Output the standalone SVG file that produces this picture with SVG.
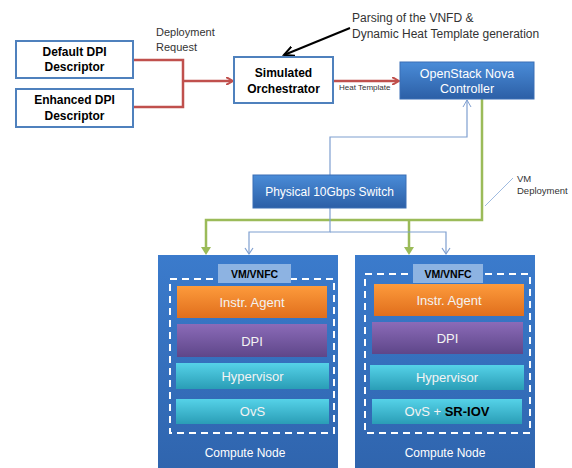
<svg xmlns="http://www.w3.org/2000/svg" width="572" height="468" viewBox="0 0 572 468">
<defs>
<linearGradient id="gBlue" x1="0" y1="0" x2="0" y2="1"><stop offset="0" stop-color="#4a8cd8"/><stop offset="1" stop-color="#2c5fa6"/></linearGradient>
<linearGradient id="gNode" x1="0" y1="0" x2="0" y2="1"><stop offset="0" stop-color="#3b7bcc"/><stop offset="1" stop-color="#2f64ad"/></linearGradient>
<linearGradient id="gOr" x1="0" y1="0" x2="0" y2="1"><stop offset="0" stop-color="#fd9b3c"/><stop offset="1" stop-color="#e06e1c"/></linearGradient>
<linearGradient id="gPu" x1="0" y1="0" x2="0" y2="1"><stop offset="0" stop-color="#8b6bb8"/><stop offset="1" stop-color="#5e4689"/></linearGradient>
<linearGradient id="gCy" x1="0" y1="0" x2="0" y2="1"><stop offset="0" stop-color="#55d2e8"/><stop offset="1" stop-color="#2a9db6"/></linearGradient>
<marker id="aRed" markerWidth="8" markerHeight="8" refX="6" refY="4" orient="auto" markerUnits="userSpaceOnUse"><path d="M0,0 L7,4 L0,8" fill="none" stroke="#c0504d" stroke-width="2"/></marker>
<marker id="aLb" markerWidth="10" markerHeight="10" refX="8" refY="5" orient="auto" markerUnits="userSpaceOnUse"><path d="M1,1 L8,5 L1,9" fill="none" stroke="#7f9fd0" stroke-width="1"/></marker>
<marker id="aBlk" markerWidth="12" markerHeight="12" refX="10" refY="6" orient="auto" markerUnits="userSpaceOnUse"><path d="M0,1 L10,6 L0,11" fill="none" stroke="#000" stroke-width="2"/></marker>
</defs>
<style>
text{font-family:"Liberation Sans",Arial,sans-serif}
.wbox{fill:#fff;stroke:#4f81bd;stroke-width:2}
.bt{font-weight:bold;font-size:12px;fill:#000;text-anchor:middle}
.lt{fill:#fff;text-anchor:middle}
.lay{font-size:13px;fill:#f3f3f3;text-anchor:middle}
.lab{fill:#333}
.tab{fill:#8db3e2}
.tabt{font-size:10.5px;font-weight:bold;text-anchor:middle;fill:#000}
.dash{fill:none;stroke:#fff;stroke-width:2;stroke-dasharray:7,5}
.red{fill:none;stroke:#c0504d;stroke-width:2.5}
.grn{fill:none;stroke:#9bbb59;stroke-width:2.5}
.lb{fill:none;stroke:#7f9fd0;stroke-width:1.2}
</style>
<rect width="572" height="468" fill="#fff"/>
<g id="connectors">
<path class="red" d="M133,60 H183 V107 H133"/>
<path class="red" d="M183,81 H232" marker-end="url(#aRed)"/>
<path class="red" d="M333,81 H398" marker-end="url(#aRed)"/>
<path d="M350,28 L284,55" fill="none" stroke="#000" stroke-width="2" marker-end="url(#aBlk)"/>
<path class="lb" d="M330,175 V137 H467 V100" marker-end="url(#aLb)"/>
<path class="grn" d="M482,99 V220 H206 V252"/>
<path class="grn" d="M409,220 V252"/>
<path d="M201,247 L206,255 L211,247 Z" fill="#9bbb59"/>
<path d="M404,247 L409,255 L414,247 Z" fill="#9bbb59"/>
<path class="lb" d="M330,208 V232 H249 V254"/>
<path class="lb" d="M330,232 H446 V254"/>
<path d="M245,248 L249,254 L253,248" fill="none" stroke="#7f9fd0" stroke-width="1.2"/>
<path d="M442,248 L446,254 L450,248" fill="none" stroke="#7f9fd0" stroke-width="1.2"/>
<path d="M513,178 L485,206" fill="none" stroke="#9fbbe0" stroke-width="1"/>
<text class="lab" x="156" y="36" style="font-size:11px">Deployment</text>
<text class="lab" x="156" y="51" style="font-size:11px">Request</text>
<text class="lab" x="352" y="22" style="font-size:12px">Parsing of the VNFD &amp;</text>
<text class="lab" x="352" y="38" style="font-size:12px">Dynamic Heat Template  generation</text>
<text class="lab" x="339" y="90" style="font-size:8px">Heat Template</text>
<text class="lab" x="517" y="182" style="font-size:9.5px">VM</text>
<text class="lab" x="517" y="194" style="font-size:9.5px">Deployment</text>
</g>
<g id="default-dpi">
<rect class="wbox" x="16" y="41" width="117" height="37"/>
<text class="bt" x="74.5" y="56">Default DPI</text>
<text class="bt" x="74.5" y="71">Descriptor</text>
</g>
<g id="enhanced-dpi">
<rect class="wbox" x="16" y="89" width="117" height="38"/>
<text class="bt" x="74.5" y="104">Enhanced DPI</text>
<text class="bt" x="74.5" y="120">Descriptor</text>
</g>
<g id="orchestrator">
<rect class="wbox" x="234" y="57" width="99" height="46"/>
<text class="bt" x="283.5" y="77">Simulated</text>
<text class="bt" x="283.5" y="93">Orchestrator</text>
</g>
<g id="nova">
<rect x="400" y="62" width="134" height="37" fill="url(#gBlue)" stroke="#3a6fb5" stroke-width="1"/>
<text class="lt" x="467" y="78" style="font-size:12.5px">OpenStack Nova</text>
<text class="lt" x="467" y="93" style="font-size:12.5px">Controller</text>
</g>
<g id="switch">
<rect x="253" y="175" width="153" height="33" fill="url(#gBlue)" stroke="#3a6fb5" stroke-width="1"/>
<text class="lt" x="329.5" y="196" style="font-size:12px">Physical 10Gbps Switch</text>
</g>
<g id="compute-node-1">
<rect x="158" y="255" width="180" height="220" fill="url(#gNode)"/>
<rect class="dash" x="170" y="279" width="164" height="154"/>
<rect class="tab" x="218" y="264" width="73" height="19"/>
<text class="tabt" x="254.5" y="277.5">VM/VNFC</text>
<rect x="177" y="286" width="150" height="32" fill="url(#gOr)"/>
<text class="lay" x="252" y="306.5">Instr. Agent</text>
<rect x="177" y="324" width="150" height="33" fill="url(#gPu)"/>
<text class="lay" x="252" y="345.5">DPI</text>
<rect x="176" y="363" width="153" height="26" fill="url(#gCy)"/>
<text class="lay" x="252.5" y="381">Hypervisor</text>
<rect x="176" y="399" width="153" height="25" fill="url(#gCy)"/>
<text class="lay" x="252.5" y="416">OvS</text>
<text class="lt" x="245" y="457" style="font-size:12px">Compute Node</text>
</g>
<g id="compute-node-2">
<rect x="355" y="255" width="180" height="220" fill="url(#gNode)"/>
<rect class="dash" x="365" y="274" width="165" height="159"/>
<rect class="tab" x="413" y="264" width="70" height="19"/>
<text class="tabt" x="448" y="277.5">VM/VNFC</text>
<rect x="374" y="284" width="150" height="32" fill="url(#gOr)"/>
<text class="lay" x="449" y="304.5">Instr. Agent</text>
<rect x="372" y="322" width="151" height="32" fill="url(#gPu)"/>
<text class="lay" x="447.5" y="343">DPI</text>
<rect x="370" y="365" width="154" height="25" fill="url(#gCy)"/>
<text class="lay" x="447" y="382">Hypervisor</text>
<rect x="372" y="399" width="150" height="25" fill="url(#gCy)"/>
<text class="lay" x="447" y="416">OvS + <tspan font-weight="bold" fill="#000">SR-IOV</tspan></text>
<text class="lt" x="445" y="457" style="font-size:12px">Compute Node</text>
</g>
</svg>
